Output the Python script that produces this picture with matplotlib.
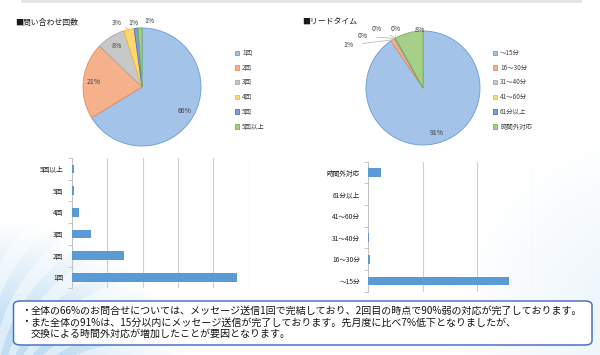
import numpy as np
import matplotlib
matplotlib.use("Agg")
import matplotlib.pyplot as plt
from matplotlib.patches import FancyBboxPatch

plt.rcParams['font.family'] = ['Noto Sans CJK JP', 'DejaVu Sans']

# ---------------- data ----------------
count_title = "■問い合わせ回数"
count_labels = ['1回', '2回', '3回', '4回', '5回', '5回以上']
count_values = [187, 59, 22, 8, 3, 3]

lead_title = "■リードタイム"
lead_labels = ['～15分', '16～30分', '31～40分', '41～60分', '61分以上', '時間外対応']
lead_values = [258, 3, 1, 0, 0, 23]

notes = [
    ("・", "全体の66%のお問合せについては、メッセージ送信1回で完結しており、2回目の時点で90%弱の対応が完了しております。"),
    ("・", "また全体の91%は、15分以内にメッセージ送信が完了しております。先月度に比べ7%低下となりましたが、"),
    ("", "交換による時間外対応が増加したことが要因となります。"),
]

# ---------------- style ----------------
fills = ['#a3c3e8', '#f5b08c', '#c8c8c8', '#ffd76a', '#7f9fdc', '#a6d08a']
edges = ['#6a9bd6', '#ee8a5a', '#a8a8a8', '#f6bd2a', '#4a70c8', '#75ad50']
bar_color = '#5b9bd5'
txt = '#404040'

W, H = 600, 355
fig = plt.figure(figsize=(W / 100, H / 100), dpi=100)


def fx(x):
    return x / W


def fy(y):
    return 1 - y / H


# ---------------- background ----------------
bg = fig.add_axes([0, 0, 1, 1], zorder=-10)
yy, xx = np.mgrid[0:H, 0:W]
d = np.hypot(xx - 0, yy - 420)
w1 = np.clip(1 - (d - 90) / 110, 0, 1)
stripe = 0.55 + 0.45 * (np.sin(np.arctan2(420 - yy, xx) * 30 + d / 10) > 0)
a1 = 0.62 * w1 * stripe
d2 = np.hypot(xx - 650, yy - 330)
w2 = np.clip(1 - (d2 - 40) / 160, 0, 1)
a2 = 0.18 * w2
a = np.clip(a1 + a2, 0, 1)
blue = np.array([0.60, 0.79, 0.93])
img = np.ones((H, W, 3)) * (1 - a[..., None]) + blue * a[..., None]
bg.imshow(img, extent=[0, W, H, 0], aspect='auto')
bg.plot([22, 580], [1, 1], color='#e3e3e3', lw=2)
bg.set_xlim(0, W)
bg.set_ylim(H, 0)
bg.axis('off')


# ---------------- pies ----------------
def make_pie(cx, cy, r, values, labels, title, title_x, legend_x,
             inside_idx, outside_pos):
    ax = fig.add_axes([fx(cx - r), fy(cy + r), 2 * r / W, 2 * r / H])
    ax.set_facecolor('none')
    wedges, _ = ax.pie(values, colors=fills, startangle=90, counterclock=False,
                       radius=1.0,
                       wedgeprops=dict(linewidth=0.6))
    for wdg, ec in zip(wedges, edges):
        wdg.set_edgecolor(ec)
    ax.set_xlim(-1, 1)
    ax.set_ylim(-1, 1)
    ax.set_aspect('equal')
    total = float(sum(values))
    for i, (wdg, v) in enumerate(zip(wedges, values)):
        lab = f"{v / total * 100:.0f}%"
        mid = np.deg2rad((wdg.theta1 + wdg.theta2) / 2)
        if i in inside_idx:
            ax.text(0.82 * np.cos(mid), 0.82 * np.sin(mid), lab, ha='center',
                    va='center', fontsize=5, color=txt)
        else:
            tx, ty = outside_pos[i]
            ax.annotate(lab, xy=(np.cos(mid), np.sin(mid)), xytext=(tx, ty),
                        ha='center', va='center', fontsize=5, color=txt,
                        annotation_clip=False,
                        arrowprops=dict(arrowstyle='-', color='#b0b0b0', lw=0.5,
                                        shrinkA=4, shrinkB=0))
    fig.text(fx(title_x), fy(22), title, fontsize=5.7, color='#1a1a1a',
             ha='left', va='center')
    fig.legend(wedges, labels, loc='upper left',
               bbox_to_anchor=(fx(legend_x), fy(49)), frameon=False,
               fontsize=4.6, labelcolor=txt, handlelength=0.7, handleheight=0.7,
               handletextpad=0.4, labelspacing=1.05, borderaxespad=0,
               borderpad=0)
    return ax


make_pie(142, 87, 59, count_values, count_labels, count_title, 15, 235,
         inside_idx=[0, 1, 2],
         outside_pos={3: (-0.42, 1.08), 4: (-0.15, 1.08), 5: (0.12, 1.12)})

make_pie(423, 88, 57, lead_values, lead_labels, lead_title, 302, 493,
         inside_idx=[0],
         outside_pos={1: (-1.30, 0.75), 2: (-1.05, 0.91), 3: (-0.81, 1.04),
                      4: (-0.47, 1.04), 5: (-0.05, 1.02)})


# ---------------- bars ----------------
def make_bar(x0, x1, y0, y1, values, labels, xmax, step):
    ax = fig.add_axes([fx(x0), fy(y1), (x1 - x0) / W, (y1 - y0) / H])
    ax.set_facecolor('none')
    ax.barh(range(len(values)), values, height=0.4, color=bar_color, zorder=3)
    ax.set_xlim(0, xmax)
    ax.set_ylim(-0.5, len(values) - 0.5)
    ax.set_xticks(np.arange(0, xmax + 1, step))
    ax.tick_params(axis='x', length=0, labelbottom=False)
    ax.grid(axis='x', color='#d0d0d0', lw=0.8, zorder=0)
    ax.set_yticks(range(len(values)))
    ax.set_yticklabels(labels, fontsize=4.8, color='#202020')
    ax.tick_params(axis='y', which='major', length=0, pad=6)
    ax.set_yticks(np.arange(-0.5, len(values), 1), minor=True)
    ax.tick_params(axis='y', which='minor', length=3, color='#c0c0c0', width=0.6)
    for s in ['top', 'right', 'bottom']:
        ax.spines[s].set_visible(False)
    ax.spines['left'].set_color('#c0c0c0')
    ax.spines['left'].set_linewidth(0.6)
    return ax


make_bar(71.7, 248.7, 158, 288.3, count_values, count_labels, 200, 40)
make_bar(368.3, 532, 161.7, 291.7, lead_values, lead_labels, 300, 100)

# ---------------- comment box ----------------
box = FancyBboxPatch((fx(13.5), fy(345)), (592 - 13.5) / W, (345 - 301) / H,
                     boxstyle="round,pad=0,rounding_size=0.012",
                     transform=fig.transFigure, facecolor='white',
                     edgecolor='#4a74c4', linewidth=1.1, zorder=5)
fig.add_artist(box)
for (bullet, line), y in zip(notes, [311, 322.3, 333.6]):
    if bullet:
        fig.text(fx(21), fy(y), bullet, fontsize=7.2, color='#111111',
                 ha='left', va='center', zorder=6)
    fig.text(fx(30.5), fy(y), line, fontsize=7.2, color='#111111',
             ha='left', va='center', zorder=6)

fig.savefig('out.png', dpi=100)
